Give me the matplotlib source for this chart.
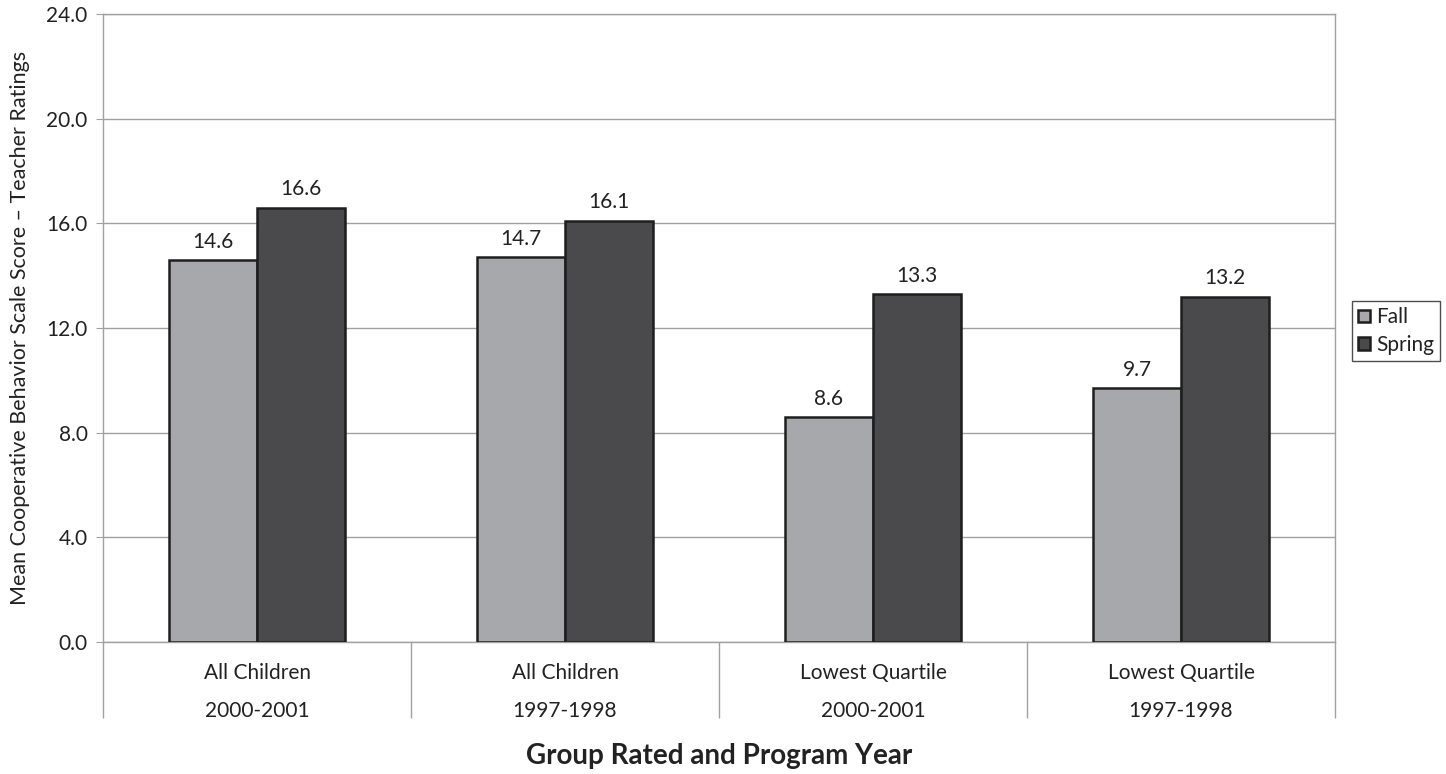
import numpy as np
import matplotlib.pyplot as plt
from matplotlib.ticker import FixedLocator, FormatStrFormatter

plt.rcParams['font.family'] = ['Lato', 'DejaVu Sans']

# data
groups = ['All Children\n2000-2001', 'All Children\n1997-1998',
          'Lowest Quartile\n2000-2001', 'Lowest Quartile\n1997-1998']
fall = [14.6, 14.7, 8.6, 9.7]
spring = [16.6, 16.1, 13.3, 13.2]

fall_col = '#a7a8ab'
spring_col = '#4a4a4c'
grid_col = '#a0a0a0'
text_col = '#222222'

fig = plt.figure(figsize=(14.46, 7.74), dpi=100)
ax = fig.add_axes([103/1446, 1 - 642/774, (1335-103)/1446, (642-14)/774])

x = np.arange(len(groups))
w = 0.286
b1 = ax.bar(x - w/2, fall, w, color=fall_col, edgecolor='#1e1e1e', linewidth=1.8, label='Fall', zorder=3)
b2 = ax.bar(x + w/2, spring, w, color=spring_col, edgecolor='#1e1e1e', linewidth=1.8, label='Spring', zorder=3)

for bars in (b1, b2):
    ax.bar_label(bars, fmt='%.1f', padding=6, fontsize=15, color=text_col)

ax.set_xlim(-0.5, 3.5)
ax.set_ylim(0, 24)
ax.set_yticks(np.arange(0, 25, 4))
ax.yaxis.set_major_formatter(FormatStrFormatter('%.1f'))
ax.grid(axis='y', color=grid_col, linewidth=1, zorder=0)

ax.set_xticks(x)
ax.set_xticklabels(groups, linespacing=2.15, fontsize=15, color=text_col)
ax.xaxis.set_minor_locator(FixedLocator(np.arange(-0.5, 4, 1)))
ax.tick_params(axis='x', which='major', length=0, pad=15)
ax.tick_params(axis='x', which='minor', length=55, color=grid_col, width=1)
ax.tick_params(axis='y', length=5, color=grid_col, labelsize=15, labelcolor=text_col, pad=6)

for s in ax.spines.values():
    s.set_color(grid_col)
    s.set_linewidth(1)

ax.set_ylabel('Mean Cooperative Behavior Scale Score \u2013 Teacher Ratings', fontsize=15.5, color=text_col, labelpad=12)
ax.set_xlabel('Group Rated and Program Year', fontsize=20, fontweight='bold', color=text_col, labelpad=14)

leg = fig.legend(handles=[b1, b2], labels=['Fall', 'Spring'], loc='center left',
                 bbox_to_anchor=(1352/1446, 1 - 331/774), frameon=True, fancybox=False,
                 fontsize=15, handlelength=0.55, handleheight=0.55, handletextpad=0.3,
                 borderpad=0.3, labelspacing=0.35, borderaxespad=0)
leg.get_frame().set_edgecolor('#222222')
leg.get_frame().set_linewidth(1)
for t in leg.get_texts():
    t.set_color(text_col)

fig.savefig('out.png', dpi=100)
